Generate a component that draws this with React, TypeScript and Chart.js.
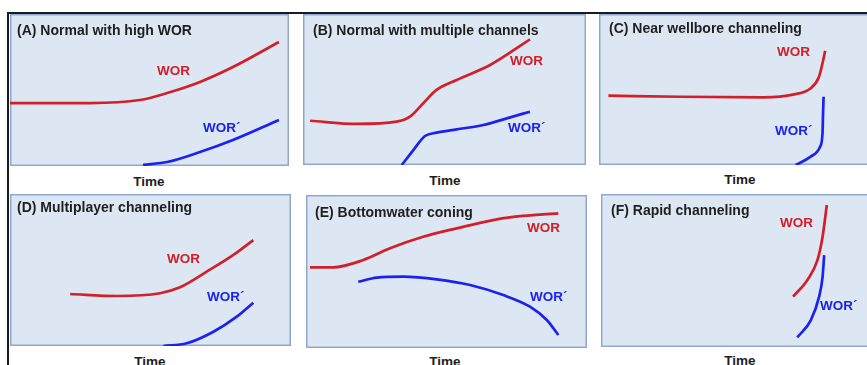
import React, { useEffect, useRef } from 'react';
import { Chart, registerables } from 'chart.js';

Chart.register(...registerables);

// ---------- data (time and value in 0..100 panel units) ----------
const panelTitles = [
  '(A) Normal with high WOR',
  '(B) Normal with multiple channels',
  '(C) Near wellbore channeling',
  '(D) Multiplayer channeling',
  '(E) Bottomwater coning',
  '(F) Rapid channeling',
];
const xAxisLabel = 'Time';
const seriesNames = ['WOR', 'WOR´'];

const aWorTime = [0, 28.7, 46.6, 56.3, 68.1, 79.9, 96.4];
const aWorValue = [41.4, 41.4, 43.4, 48, 55.3, 65.1, 81.6];
const aDerTime = [47.7, 56.3, 68.1, 79.9, 96.4];
const aDerValue = [0.7, 2.6, 9.2, 17.1, 30.3];

const bWorTime = [2.5, 19, 33.1, 37.8, 42.5, 47.2, 54.3, 66.1, 80.2];
const bWorValue = [29.3, 27.2, 28.7, 32, 40.9, 49.7, 56.3, 66.2, 83.2];
const bDerTime = [34.9, 39, 43.1, 47.2, 54.3, 63.7, 72, 80.2];
const bDerValue = [0, 9.9, 19.2, 21.4, 23.6, 26.5, 30.9, 35.3];

const cWorTime = [3.5, 30.3, 61.5, 72.8, 79, 82.1, 83.4, 84.4];
const cWorValue = [45.9, 45.2, 44.8, 46.8, 50.8, 58.5, 67.4, 75.7];
const cDerTime = [73.4, 79, 82.5, 83.4, 83.6, 83.8];
const cDerValue = [0, 5.5, 12.1, 21, 34.2, 45.2];

const dWorTime = [21.4, 38, 53.4, 60.5, 70, 79.5, 86.6];
const dWorValue = [34.2, 32.9, 34.7, 38.6, 48.9, 59.9, 69.7];
const dDerTime = [54.6, 62.9, 72.4, 80.7, 86.6];
const dDerValue = [0, 1.8, 9.4, 19.3, 28.5];

const eWorTime = [1.4, 9.7, 20.4, 29.9, 41.7, 53.6, 67.9, 77.3, 89.8];
const eWorValue = [52.7, 52.7, 57.5, 65.2, 72.7, 78.2, 84.1, 86.3, 88];
const eDerTime = [18.6, 25.2, 34.6, 46.5, 58.4, 70.2, 79.7, 85.7, 89.8];
const eDerValue = [43.3, 46, 46.6, 44.9, 41.2, 34.6, 27, 18.3, 8.5];

const fWorTime = [72.2, 77.6, 81.4, 83.3, 84.9];
const fWorValue = [32.9, 43.8, 56.9, 72.1, 92.8];
const fDerTime = [73.8, 78.9, 82, 83.3, 83.9];
const fDerValue = [6.3, 17.6, 32.9, 45.9, 60.1];

const worTimes = [aWorTime, bWorTime, cWorTime, dWorTime, eWorTime, fWorTime];
const worValues = [aWorValue, bWorValue, cWorValue, dWorValue, eWorValue, fWorValue];
const derTimes = [aDerTime, bDerTime, cDerTime, dDerTime, eDerTime, fDerTime];
const derValues = [aDerValue, bDerValue, cDerValue, dDerValue, eDerValue, fDerValue];

// ---------- layout / style (not data) ----------
const RED = '#d0202a';
const BLUE = '#1c22ee';
const FILL = '#dde7f3';
const EDGE = '#8ea9cd';
const FONT = '"Liberation Sans", Arial, sans-serif';

type Layout = {
  left: number; top: number; w: number; h: number; openRight?: boolean;
  title: [number, number];
  time: [number, number];
  worLabel: [number, number];
  derLabel: [number, number];
};

const layouts: Layout[] = [
  { left: 10, top: 14, w: 279, h: 152, title: [17, 30], time: [149, 182], worLabel: [157, 71], derLabel: [203, 128] },
  { left: 303, top: 14, w: 283, h: 151, title: [313, 30], time: [445, 181], worLabel: [510, 61], derLabel: [508, 128] },
  { left: 599, top: 14, w: 268, h: 151, openRight: true, title: [609, 28], time: [740, 180], worLabel: [777, 52], derLabel: [775, 131] },
  { left: 10, top: 194, w: 281, h: 152, title: [17, 207], time: [150, 362], worLabel: [167, 259], derLabel: [207, 297] },
  { left: 306, top: 195, w: 281, h: 153, title: [315, 212], time: [445, 362], worLabel: [527, 228], derLabel: [530, 297] },
  { left: 601, top: 194, w: 266, h: 153, openRight: true, title: [611, 210], time: [740, 361], worLabel: [780, 223], derLabel: [820, 306] },
];

const panelBg = {
  id: 'panelBg',
  beforeDraw(chart: any, _args: any, opts: any) {
    const { ctx, chartArea: a } = chart;
    ctx.save();
    ctx.fillStyle = FILL;
    ctx.fillRect(a.left, a.top, a.right - a.left, a.bottom - a.top);
    ctx.strokeStyle = EDGE;
    ctx.lineWidth = 1.5;
    ctx.beginPath();
    if (opts && opts.openRight) {
      ctx.moveTo(a.right + 2, a.top + 0.75);
      ctx.lineTo(a.left + 0.75, a.top + 0.75);
      ctx.lineTo(a.left + 0.75, a.bottom - 0.75);
      ctx.lineTo(a.right + 2, a.bottom - 0.75);
    } else {
      ctx.rect(a.left + 0.75, a.top + 0.75, a.right - a.left - 1.5, a.bottom - a.top - 1.5);
    }
    ctx.stroke();
    ctx.restore();
  },
};

function Panel({ idx }: { idx: number }) {
  const ref = useRef<HTMLCanvasElement | null>(null);
  const L = layouts[idx];
  useEffect(() => {
    if (!ref.current) return;
    const toPts = (xs: number[], ys: number[]) => xs.map((x, i) => ({ x, y: ys[i] }));
    const chart = new Chart(ref.current, {
      type: 'line',
      data: {
        datasets: [
          {
            label: seriesNames[0],
            data: toPts(worTimes[idx], worValues[idx]),
            borderColor: RED,
            borderWidth: 2.7,
            pointRadius: 0,
            cubicInterpolationMode: 'monotone',
            fill: false,
          },
          {
            label: seriesNames[1],
            data: toPts(derTimes[idx], derValues[idx]),
            borderColor: BLUE,
            borderWidth: 2.7,
            pointRadius: 0,
            cubicInterpolationMode: 'monotone',
            fill: false,
          },
        ],
      },
      options: {
        animation: false,
        responsive: false,
        devicePixelRatio: 1,
        layout: { padding: 0 },
        scales: {
          x: { type: 'linear', min: 0, max: 100, display: false },
          y: { type: 'linear', min: 0, max: 100, display: false },
        },
        plugins: {
          legend: { display: false },
          tooltip: { enabled: false },
          panelBg: { openRight: !!L.openRight },
        } as any,
      },
      plugins: [panelBg],
    });
    return () => chart.destroy();
  }, [idx]);

  const txt = (x: number, cy: number, s: string, color: string, size: number, center = false) => (
    <div
      style={{
        position: 'absolute',
        left: center ? x - 40 : x,
        width: center ? 80 : undefined,
        textAlign: center ? 'center' : 'left',
        top: cy - 8,
        lineHeight: '16px',
        fontSize: size,
        fontWeight: 700,
        color,
        whiteSpace: 'nowrap',
        fontFamily: FONT,
      }}
    >
      {s}
    </div>
  );

  return (
    <>
      <canvas
        ref={ref}
        width={L.w}
        height={L.h}
        style={{ position: 'absolute', left: L.left, top: L.top, width: L.w, height: L.h }}
      />
      {txt(L.title[0], L.title[1], panelTitles[idx], '#1e1e1e', 14)}
      {txt(L.time[0], L.time[1], xAxisLabel, '#1e1e1e', 13.5, true)}
      {txt(L.worLabel[0], L.worLabel[1], seriesNames[0], RED, 13.5)}
      {txt(L.derLabel[0], L.derLabel[1], seriesNames[1], BLUE, 13.5)}
    </>
  );
}

export default function App() {
  return (
    <div
      style={{
        position: 'fixed',
        left: 0,
        top: 0,
        width: 867,
        height: 365,
        overflow: 'hidden',
        background: '#ffffff',
        fontFamily: FONT,
      }}
    >
      <div style={{ position: 'absolute', left: 7, top: 12, width: 2, height: 360, background: '#1a1a1a' }} />
      <div style={{ position: 'absolute', left: 7, top: 12, width: 870, height: 2, background: '#1a1a1a' }} />
      {layouts.map((_, i) => (
        <Panel key={i} idx={i} />
      ))}
    </div>
  );
}
